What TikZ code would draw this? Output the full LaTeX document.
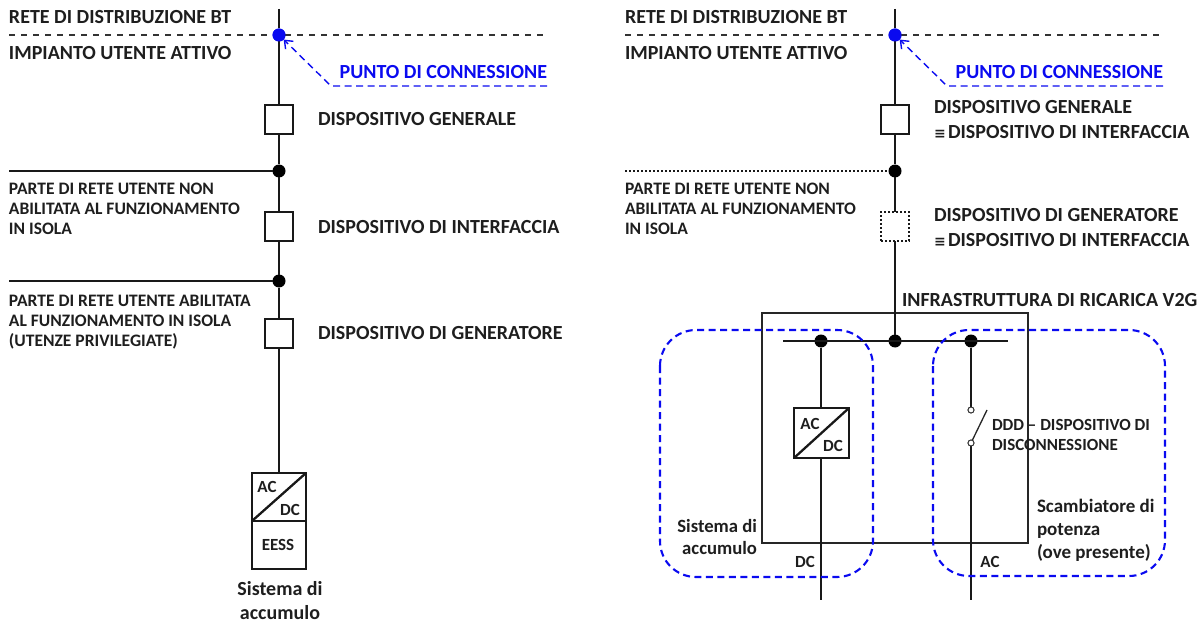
\documentclass[tikz,border=0pt]{standalone}
\usepackage{fontspec}
\usetikzlibrary{arrows.meta}
\setmainfont{Carlito}
\newfontfamily\symfont{DejaVu Sans}
\newcommand{\equivsign}{\makebox[14pt][l]{\symfont\fontsize{14}{14}\selectfont ≡}}
\definecolor{tblue}{RGB}{10,10,240}
\definecolor{ink}{RGB}{30,30,30}
\tikzset{x=1pt,y=-1pt,
 every node/.style={font=\bfseries\fontsize{20}{24}\selectfont,text=ink,inner sep=0pt,outer sep=0pt},
 wire/.style={line width=2.3pt,black!90},
 sepline/.style={line width=1.3pt,dash pattern=on 6pt off 6pt,black!80},
 bluedash/.style={line width=1.4pt,dash pattern=on 7pt off 4.5pt,tblue},
 devbox/.style={draw=black!90,line width=2.1pt,fill=white,minimum width=28pt,minimum height=29pt},
 dotbox/.style={draw=black!90,line width=1.7pt,dash pattern=on 2pt off 2pt,minimum width=28pt,minimum height=29pt},
 junc/.style={circle,fill=black,minimum size=13pt},
 bdot/.style={circle,fill=tblue,minimum size=13pt},
 opencontact/.style={circle,draw=black!80,line width=.9pt,fill=white,minimum size=6pt},
 lab/.style={anchor=west},
 smalltext/.style={anchor=north west,align=left,font=\bfseries\fontsize{17.5}{20}\selectfont},
 acdc/.style={font=\bfseries\fontsize{17}{17}\selectfont},
 conv/.style={draw=black!90,line width=2.2pt,fill=white,anchor=north west},
 barb/.style={-{Straight Barb[length=7pt,width=11pt,line width=1.4pt]}},
}
\begin{document}
\begin{tikzpicture}
\useasboundingbox (0,0) rectangle (1203,623);
% ---------- LEFT
\coordinate (ltop) at (279,9);
\coordinate (sl1) at (9,35); \coordinate (sr1) at (547,35);
\coordinate (bl1) at (547,86); \coordinate (bm1) at (331,86);
\node[bdot] (pc1) at (279,35) {};
\node[devbox] (dg1) at (279,119.5) {};
\node[junc] (j1) at (279,171) {};
\node[devbox] (di1) at (279,226.5) {};
\node[junc] (j2) at (279,281) {};
\node[devbox] (dd1) at (279,333.5) {};
\node[conv,minimum width=54pt,minimum height=48pt] (cv1) at (252,473) {};
\node[conv,minimum width=54pt,minimum height=48pt] (es1) at (252,521) {};
\coordinate (h1) at (9,171); \coordinate (h2) at (9,281);
\draw[sepline] (sl1) -- (sr1);
\draw[wire] (ltop) -- (pc1) -- (dg1) -- (j1) -- (di1) -- (j2) -- (dd1) -- (cv1.north -| pc1);
\draw[wire] (h1) -- (j1);
\draw[wire] (h2) -- (j2);
\node[devbox] at (dg1) {};\node[devbox] at (di1) {};\node[devbox] at (dd1) {};
\node[bdot] at (pc1) {};
\draw[wire] (cv1.south west) -- (cv1.north east);
\draw[bluedash,barb] (bl1) -- (bm1) -- (pc1);
\node[lab] (t1) at (9,17) {RETE DI DISTRIBUZIONE BT};
\node[lab] (t2) at (9,53) {IMPIANTO UTENTE ATTIVO};
\node[anchor=east,text=tblue] (t3) at (547,72) {PUNTO DI CONNESSIONE};
\node[lab] (t4) at (318,119) {DISPOSITIVO GENERALE};
\node[lab] (t5) at (318,227) {DISPOSITIVO DI INTERFACCIA};
\node[lab] (t6) at (318,333) {DISPOSITIVO DI GENERATORE};
\node[smalltext] (t7) at (9,183) {PARTE DI RETE UTENTE NON\\ABILITATA AL FUNZIONAMENTO\\IN ISOLA};
\node[smalltext] (t8) at (9,295) {PARTE DI RETE UTENTE ABILITATA\\AL FUNZIONAMENTO IN ISOLA\\(UTENZE PRIVILEGIATE)};
\node[acdc] (t9) at (267,487) {AC};
\node[acdc] (t10) at (290,510) {DC};
\node[acdc] (t11) at (278,545) {EESS};
\node[align=center,font=\bfseries\fontsize{20}{24}\selectfont] (t12) at (280,601) {Sistema di\\accumulo};
% ---------- RIGHT
\coordinate (rtop) at (895,9);
\coordinate (sl2) at (625,35); \coordinate (sr2) at (1163,35);
\coordinate (bl2) at (1163,86); \coordinate (bm2) at (947,86);
\coordinate (h3) at (625,171);
\coordinate (busl) at (783,341); \coordinate (busr) at (1008,341);
\coordinate (dcend) at (821,600); \coordinate (acend) at (971,600);
\coordinate (blade) at (987,410);
\node[bdot] (pc2) at (895,35) {};
\node[devbox] (dg2) at (895,119.5) {};
\node[junc] (j3) at (895,171) {};
\node[dotbox] (dd2) at (895,226.5) {};
\node[draw=black!85,line width=1.2pt,minimum width=266pt,minimum height=230pt] (inf) at (895,428) {};
\node[junc] (b1) at (821,341) {};
\node[junc] (b2) at (895,341) {};
\node[junc] (b3) at (971,341) {};
\node[opencontact] (s1) at (971,410) {};
\node[opencontact] (s2) at (971,443) {};
\draw[sepline] (sl2) -- (sr2);
\draw[wire] (rtop) -- (pc2) -- (dg2) -- (j3) -- (dd2) -- (b2);
\draw[wire,line width=1.9pt,dash pattern=on 2pt off 2pt] (h3) -- (j3);
\draw[wire] (busl) -- (busr);
\draw[wire] (b1) -- (dcend);
\draw[wire] (b3) -- (s1);
\draw[wire] (s2) -- (acend);
\draw[line width=1.3pt,black!85] (s2) -- (blade);
\node[opencontact] at (s1) {};\node[opencontact] at (s2) {};
\node[devbox] at (dg2) {};
\node[bdot] at (pc2) {};
\node[conv,minimum width=55pt,minimum height=50pt] (cv2) at (794,408) {};
\draw[wire] (cv2.south west) -- (cv2.north east);
\draw[bluedash,barb] (bl2) -- (bm2) -- (pc2);
\draw[bluedash,line width=2.1pt,rounded corners=36pt] (660,330) rectangle (873,577);
\draw[bluedash,line width=2.1pt,rounded corners=36pt] (933,330) rectangle (1165,576);
\node[lab] (r1) at (625,17) {RETE DI DISTRIBUZIONE BT};
\node[lab] (r2) at (625,53) {IMPIANTO UTENTE ATTIVO};
\node[anchor=east,text=tblue] (r3) at (1163,72) {PUNTO DI CONNESSIONE};
\node[lab] (r4) at (934,107) {DISPOSITIVO GENERALE};
\node[lab] (r5) at (934,132) {\equivsign DISPOSITIVO DI INTERFACCIA};
\node[lab] (r6) at (934,215) {DISPOSITIVO DI GENERATORE};
\node[lab] (r7) at (934,240) {\equivsign DISPOSITIVO DI INTERFACCIA};
\node[lab] (r8) at (902,300) {INFRASTRUTTURA DI RICARICA V2G};
\node[smalltext] (r9) at (625,183) {PARTE DI RETE UTENTE NON\\ABILITATA AL FUNZIONAMENTO\\IN ISOLA};
\node[acdc] (r10) at (810,424) {AC};
\node[acdc] (r11) at (833,446) {DC};
\node[smalltext,font=\bfseries\fontsize{17}{20}\selectfont] (r12) at (992,419) {DDD -- DISPOSITIVO DI\\DISCONNESSIONE};
\node[anchor=north east,align=right,font=\bfseries\fontsize{18.7}{22.5}\selectfont] (r13) at (757,519) {Sistema di\\accumulo};
\node[smalltext,font=\bfseries\fontsize{19}{23}\selectfont] (r14) at (1037,499) {Scambiatore di\\potenza\\(ove presente)};
\node[acdc] (r15) at (805,562) {DC};
\node[acdc] (r16) at (990,562) {AC};
\end{tikzpicture}
\end{document}
